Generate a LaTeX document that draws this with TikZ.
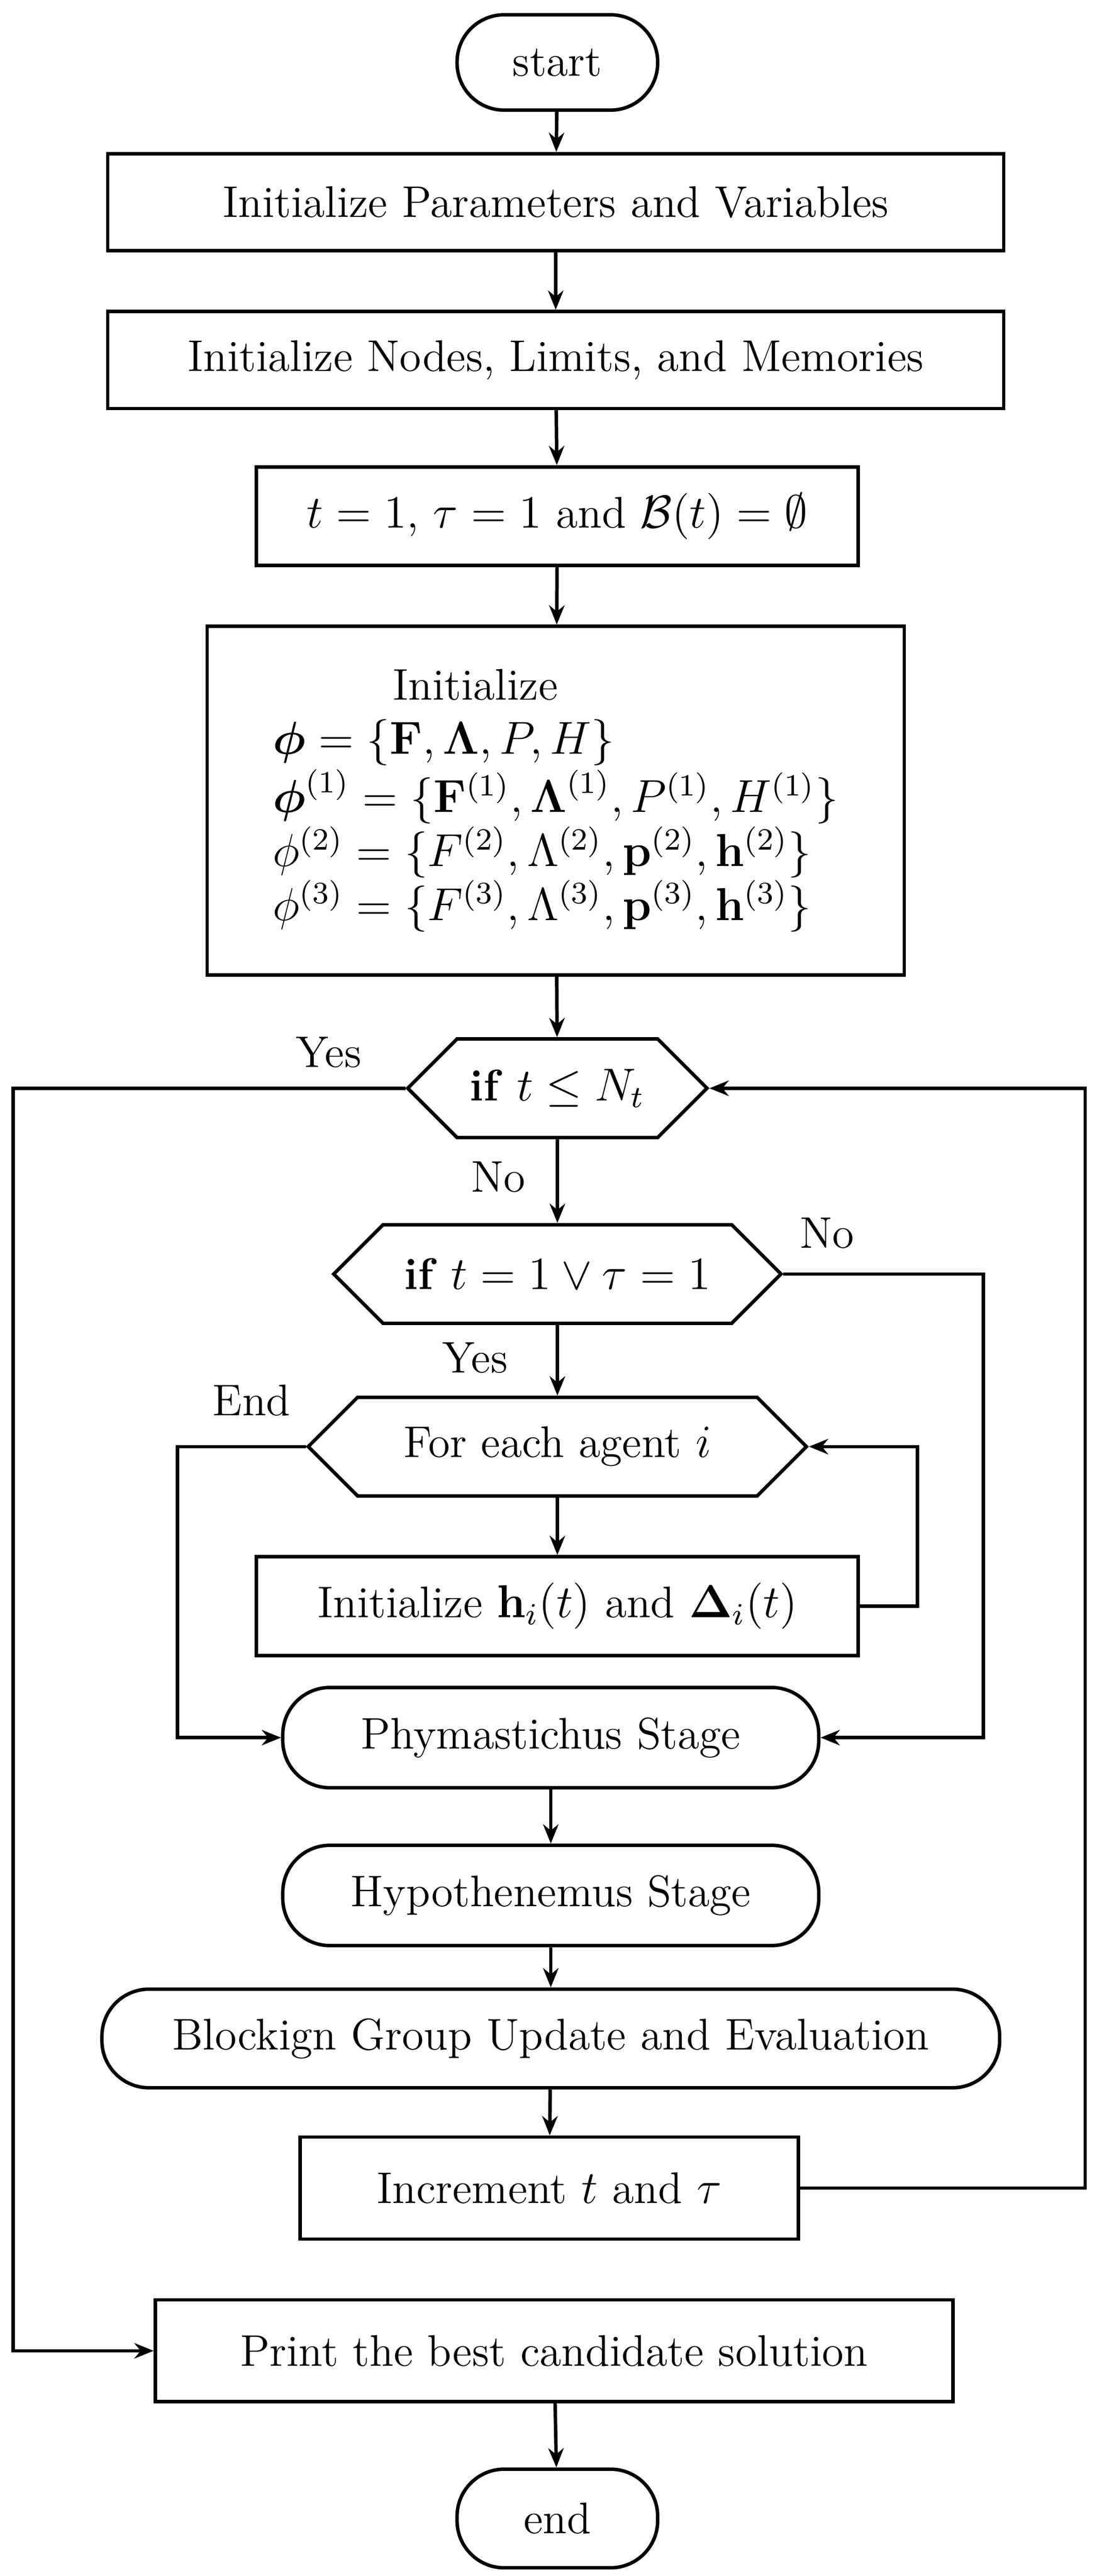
\documentclass[tikz,border=0pt]{standalone}
\usepackage{amsmath,amssymb}
\usetikzlibrary{shapes.symbols,arrows.meta}
\begin{document}
\begin{tikzpicture}[x=0.015cm,y=-0.015cm,font=\fontsize{11.5}{14}\selectfont,line width=0.9pt,
 box/.style={draw,rectangle,inner sep=2pt},
 term/.style={draw,rectangle,rounded corners=0.43cm,inner sep=2pt},
 hex/.style={draw,signal,signal to=west and east,signal pointer angle=90,inner sep=2pt},
 ar/.style={-{Stealth[length=5pt,width=4pt]}}]
\useasboundingbox (0,0) rectangle (667,1567);
\node[term,minimum width=1.83cm,minimum height=0.87cm] (start) at (339,38) {start};
\node[box,minimum width=8.175cm,minimum height=0.885cm] (p) at (338,123) {Initialize Parameters and Variables};
\node[box,minimum width=8.175cm,minimum height=0.885cm] (n) at (338,219) {Initialize Nodes, Limits, and Memories};
\node[box,minimum width=5.49cm,minimum height=0.9cm] (t) at (339,314) {$t=1$, $\tau=1$ and $\mathcal{B}(t)=\emptyset$};
\node[box,minimum width=6.36cm,minimum height=3.18cm,align=left] (i) at (338,487) {\hspace{2.7em}Initialize\\
$\boldsymbol{\phi}=\{\mathbf{F},\boldsymbol{\Lambda},P,H\}$\\
$\boldsymbol{\phi}^{(1)}=\{\mathbf{F}^{(1)},\boldsymbol{\Lambda}^{(1)},P^{(1)},H^{(1)}\}$\\
$\phi^{(2)}=\{F^{(2)},\Lambda^{(2)},\mathbf{p}^{(2)},\mathbf{h}^{(2)}\}$\\
$\phi^{(3)}=\{F^{(3)},\Lambda^{(3)},\mathbf{p}^{(3)},\mathbf{h}^{(3)}\}$};
\node[hex,minimum width=2.73cm,minimum height=0.9cm] (c1) at (339,662) {\textbf{if} $t\le N_t$};
\node[hex,minimum width=4.08cm,minimum height=0.9cm] (c2) at (339,775) {\textbf{if} $t=1\vee\tau=1$};
\node[hex,minimum width=4.545cm,minimum height=0.9cm] (c3) at (339,880) {For each agent $i$};
\node[box,minimum width=5.49cm,minimum height=0.9cm] (h) at (339,977) {Initialize $\mathbf{h}_i(t)$ and $\boldsymbol{\Delta}_i(t)$};
\node[term,minimum width=4.89cm,minimum height=0.915cm] (ph) at (335,1057) {Phymastichus Stage};
\node[term,minimum width=4.89cm,minimum height=0.915cm] (hy) at (335,1153) {Hypothenemus Stage};
\node[term,minimum width=8.19cm,minimum height=0.9cm] (bl) at (335,1240) {Blockign Group Update and Evaluation};
\node[box,minimum width=4.545cm,minimum height=0.93cm] (inc) at (334,1331) {Increment $t$ and $\tau$};
\node[box,minimum width=7.275cm,minimum height=0.93cm] (pr) at (337,1430) {Print the best candidate solution};
\node[term,minimum width=1.83cm,minimum height=0.9cm] (end) at (339,1532) {end};
\draw[ar] (start)--(p); \draw[ar] (p)--(n); \draw[ar] (n)--(t); \draw[ar] (t)--(i);
\draw[ar] (i)--(c1); \draw[ar] (c1)--(c2); \draw[ar] (c2)--(c3); \draw[ar] (c3)--(h);
\draw[ar] (ph)--(hy); \draw[ar] (hy)--(bl); \draw[ar] (bl)--(inc); \draw[ar] (pr)--(end);
\draw[ar] (c1.west) -| (8,1430) -- (pr.west);
\draw[ar] (c2.east) -| (598,1057) -- (ph.east);
\draw[ar] (c3.west) -| (108,1057) -- (ph.west);
\draw[ar] (h.east) -| (558,880) -- (c3.east);
\draw[ar] (inc.east) -| (660,662) -- (c1.east);
\node (yes1) at (200,640) {Yes};
\node (no1) at (303,716) {No};
\node (no2) at (503,750) {No};
\node (yes2) at (289,826) {Yes};
\node (end1) at (153,852) {End};
\end{tikzpicture}
\end{document}
